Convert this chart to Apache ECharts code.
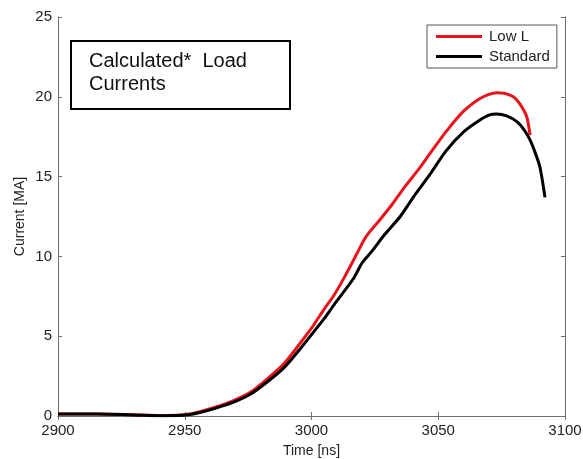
<!DOCTYPE html>
<html><head><meta charset="utf-8">
<script src="https://cdn.jsdelivr.net/npm/echarts@6/dist/echarts.min.js"></script>
<style>html,body{margin:0;padding:0;background:#fff}#c{width:583px;height:459px}</style>
</head><body><div id="c"></div>
<script>
const lowLTime = [2900,2915,2930,2940,2947,2952,2956,2962,2969,2976,2982,2989,2995,3000,3005,3009,3013,3018,3021,3023,3027,3032,3037,3042,3047,3053,3060,3066,3070,3073,3076,3079.6,3082,3084.9,3086.2];
const lowLCurrent = [0.12,0.12,0.08,0.03,0.04,0.12,0.27,0.55,0.95,1.5,2.25,3.25,4.45,5.5,6.7,7.6,8.7,10.2,11.1,11.55,12.3,13.3,14.4,15.4,16.5,17.8,19.1,19.85,20.15,20.26,20.22,20.0,19.6,18.75,17.6];
const stdTime = [2900,2915,2930,2940,2947,2952,2956,2962,2969,2976,2982,2989,2995,3000,3005,3009,3016.5,3020,3023.7,3029,3035,3041,3047,3053,3060,3066,3070,3073,3077,3081,3084,3086.2,3088,3090.1,3092.1];
const stdCurrent = [0.12,0.12,0.07,0.02,0.03,0.1,0.22,0.48,0.85,1.38,2.07,3.0,4.1,5.1,6.1,7.0,8.6,9.6,10.3,11.4,12.5,13.9,15.2,16.6,17.8,18.5,18.85,18.92,18.8,18.44,17.9,17.3,16.6,15.6,13.7];
const xTicks = [2900,2950,3000,3050,3100];
const yTicks = [0,5,10,15,20,25];
const seriesNames = ['Low L','Standard'];
const titleLines = ['Calculated*  Load','Currents'];

const FONT = 'Liberation Sans, Arial, sans-serif';
const axisGrey = '#6e6e6e';
const zip = (a,b)=>a.map((v,i)=>[v,b[i]]);
const chart = echarts.init(document.getElementById('c'));
const baseX = {
  type:'value', min:xTicks[0], max:xTicks[xTicks.length-1], interval:50,
  axisLine:{show:true,lineStyle:{color:axisGrey,width:1}},
  axisTick:{show:true,inside:true,length:4,lineStyle:{color:axisGrey}},
  splitLine:{show:false}
};
const baseY = {
  type:'value', min:yTicks[0], max:yTicks[yTicks.length-1], interval:5,
  axisLine:{show:true,lineStyle:{color:axisGrey,width:1}},
  axisTick:{show:true,inside:true,length:4,lineStyle:{color:axisGrey}},
  splitLine:{show:false}
};
chart.setOption({
  animation:false,
  backgroundColor:'#fff',
  grid:{left:58,right:18,top:17,bottom:43,containLabel:false,outerBoundsMode:'none'},
  xAxis:[
    Object.assign({}, baseX, {position:'bottom', name:'Time [ns]', nameLocation:'middle', nameGap:28, nameMoveOverlap:false,
      nameTextStyle:{fontFamily:FONT,fontSize:14,color:'#222'},
      axisLabel:{fontFamily:FONT,fontSize:15,color:'#222',margin:7,formatter:v=>String(v)}}),
    Object.assign({}, baseX, {position:'top', axisLabel:{show:false}})
  ],
  yAxis:[
    Object.assign({}, baseY, {position:'left', name:'Current [MA]', nameLocation:'middle', nameGap:31, nameMoveOverlap:false,
      nameTextStyle:{fontFamily:FONT,fontSize:14,color:'#222'},
      axisLabel:{fontFamily:FONT,fontSize:15,color:'#222',margin:6}}),
    Object.assign({}, baseY, {position:'right', axisLabel:{show:false}})
  ],
  legend:{
    data:seriesNames, orient:'vertical', left:427, top:25,
    backgroundColor:'#fff', borderColor:'#555', borderWidth:1,
    padding:[4,7,4,9], itemGap:5, itemWidth:46, itemHeight:3, icon:'rect',
    textStyle:{fontFamily:FONT,fontSize:15,color:'#222',padding:[0,0,0,2]}
  },
  graphic:[
    {type:'rect', left:70, top:40, shape:{width:219,height:68},
      style:{fill:'#fff',stroke:'#000',lineWidth:2}},
    {type:'text', left:89, top:50,
      style:{text:titleLines.join('\n'), fontFamily:FONT, fontSize:20, lineHeight:23, fill:'#111'}}
  ],
  series:[
    {name:seriesNames[0], type:'line', data:zip(lowLTime,lowLCurrent), showSymbol:false, smooth:0.25,
      lineStyle:{color:'#e8141c',width:3}, itemStyle:{color:'#e8141c'}, z:3},
    {name:seriesNames[1], type:'line', data:zip(stdTime,stdCurrent), showSymbol:false, smooth:0.25,
      lineStyle:{color:'#000',width:3}, itemStyle:{color:'#000'}, z:4}
  ]
});
</script></body></html>
